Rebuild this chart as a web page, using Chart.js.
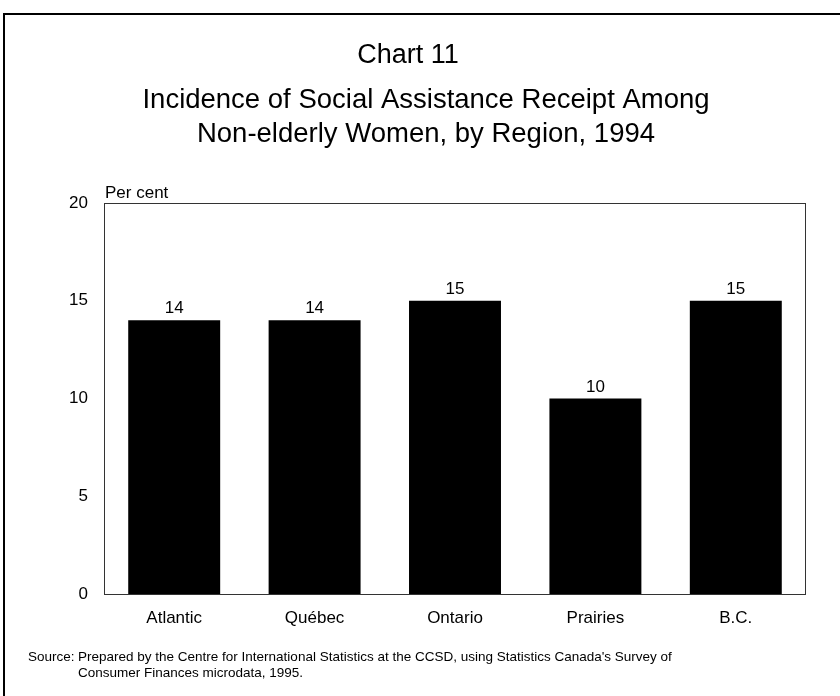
<!DOCTYPE html>
<html>
<head>
<meta charset="utf-8">
<script src="https://cdn.jsdelivr.net/npm/chart.js@4"></script>
<style>
html,body{margin:0;padding:0;background:#fff;}
canvas{display:block;}
</style>
</head>
<body>
<canvas id="c" width="840" height="696"></canvas>
<script>
const categories = ['Atlantic', 'Québec', 'Ontario', 'Prairies', 'B.C.'];
const values = [14, 14, 15, 10, 15];
const yTicks = [0, 5, 10, 15, 20];
const titleLines = ['Chart 11', 'Incidence of Social Assistance Receipt Among', 'Non-elderly Women, by Region, 1994'];
const yUnit = 'Per cent';
const sourceLabel = 'Source:';
const sourceLines = ["Prepared by the Centre for International Statistics at the CCSD, using Statistics Canada's Survey of", 'Consumer Finances microdata, 1995.'];

const FONT = "'Liberation Sans', Arial, sans-serif";

const decor = {
  id: 'decor',
  beforeDatasetsDraw(chart) {
    const ctx = chart.ctx, a = chart.chartArea;
    ctx.save();
    ctx.strokeStyle = '#333';
    ctx.lineWidth = 1;
    ctx.strokeRect(Math.round(a.left) + 0.5, Math.round(a.top) + 0.5,
                   Math.round(a.right - a.left) - 1, Math.round(a.bottom - a.top));
    ctx.restore();
  },
  afterDatasetsDraw(chart) {
    const ctx = chart.ctx;
    const meta = chart.getDatasetMeta(0);
    ctx.save();
    ctx.fillStyle = '#000';
    ctx.font = '17px ' + FONT;
    ctx.textAlign = 'center';
    ctx.textBaseline = 'alphabetic';
    meta.data.forEach((bar, i) => {
      ctx.fillText(String(values[i]), bar.x, bar.y - 7);
    });
    ctx.restore();
  },
  afterDraw(chart) {
    const ctx = chart.ctx, a = chart.chartArea;
    ctx.save();
    // outer frame
    ctx.strokeStyle = '#000';
    ctx.lineWidth = 2;
    ctx.strokeRect(4, 14, 860, 720);
    // titles
    ctx.fillStyle = '#000';
    ctx.textBaseline = 'alphabetic';
    ctx.textAlign = 'center';
    ctx.font = '27px ' + FONT;
    ctx.fillText(titleLines[0], 408, 63);
    ctx.font = '27.5px ' + FONT;
    ctx.fillText(titleLines[1], 426, 108);
    ctx.fillText(titleLines[2], 426, 142);
    // unit label
    ctx.textAlign = 'left';
    ctx.font = '17px ' + FONT;
    ctx.fillText(yUnit, a.left + 1, a.top - 5);
    // source
    ctx.font = '13.5px ' + FONT;
    ctx.fillText(sourceLabel, 28, 661);
    ctx.fillText(sourceLines[0], 78, 661);
    ctx.fillText(sourceLines[1], 78, 677);
    ctx.restore();
  }
};

new Chart(document.getElementById('c'), {
  type: 'bar',
  data: {
    labels: categories,
    datasets: [{
      data: values,
      backgroundColor: '#000',
      borderWidth: 0,
      categoryPercentage: 1.0,
      barPercentage: 0.655
    }]
  },
  options: {
    responsive: false,
    animation: false,
    devicePixelRatio: 1,
    layout: { padding: { top: 203, right: 34, left: 0, bottom: 0 } },
    plugins: {
      legend: { display: false },
      title: { display: false },
      tooltip: { enabled: false }
    },
    scales: {
      x: {
        grid: { display: false, drawTicks: false },
        border: { display: false },
        ticks: { color: '#000', font: { size: 17, family: FONT }, padding: 14, maxRotation: 0 },
        afterFit(s) { s.height = 102; }
      },
      y: {
        min: 0, max: 20,
        afterBuildTicks(s) { s.ticks = yTicks.map(v => ({ value: v })); },
        grid: { display: false, drawTicks: false },
        border: { display: false },
        ticks: { color: '#000', font: { size: 17, family: FONT }, padding: 16 },
        afterFit(s) { s.width = 104; }
      }
    }
  },
  plugins: [decor]
});
</script>
</body>
</html>
